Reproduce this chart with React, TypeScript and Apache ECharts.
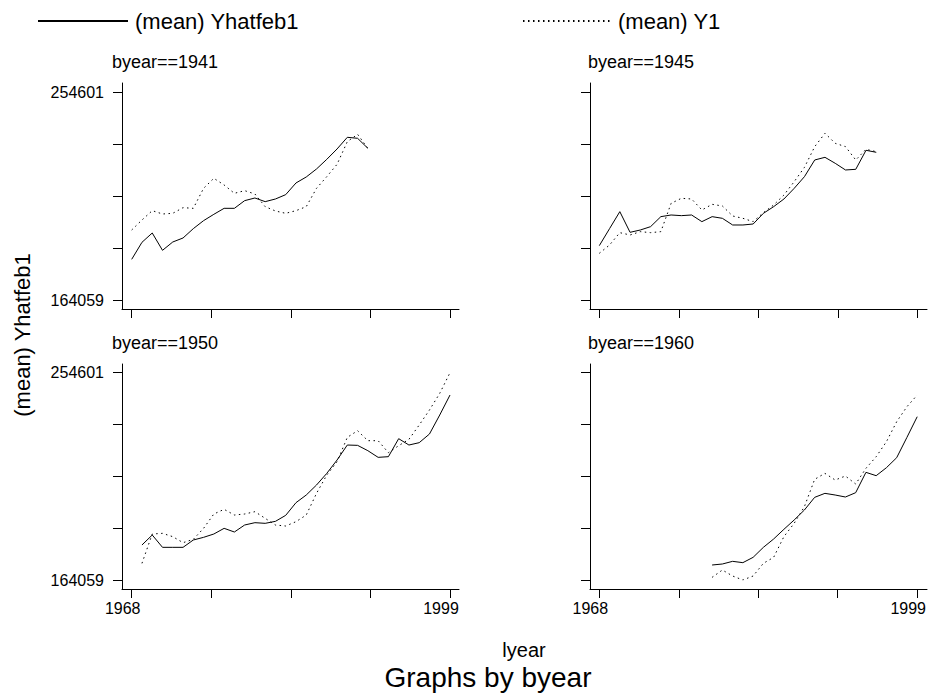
import { useEffect, useRef } from 'react';
import * as echarts from 'echarts';

const FONT = '"Liberation Sans", Arial, Helvetica, sans-serif';

// ---- data ----
const panelTitles = ['byear==1941', 'byear==1945', 'byear==1950', 'byear==1960'];
const startYears = [1968, 1968, 1969, 1979];
const legendNames = ['(mean) Yhatfeb1', '(mean) Y1'];

const yhat1941 = [181789, 189201, 193270, 185713, 189346, 191090, 195160, 198648, 201409, 204025, 204025, 207367, 208530, 206931, 208094, 209983, 215070, 217686, 221174, 225388, 229893, 234980, 234544, 230184];
const y1941 = [194578, 198938, 203007, 201554, 201845, 204315, 204025, 212745, 217104, 214198, 210565, 211727, 210274, 204751, 202862, 201845, 203007, 204751, 212745, 217831, 223208, 233091, 236288, 230184];

const yhat1945 = [187748, 195160, 202571, 193561, 194578, 196032, 200392, 201118, 200827, 201118, 198212, 200392, 199665, 196758, 196758, 197194, 201845, 204751, 208094, 212745, 217831, 225098, 226260, 223644, 220738, 221028, 229312, 228440];
const y1945 = [184405, 188038, 193416, 192398, 193852, 193416, 193852, 206205, 208385, 208094, 203298, 205769, 205042, 200682, 199665, 198212, 202135, 205478, 209838, 215651, 221900, 230911, 236724, 232364, 230911, 225098, 229748, 228731];

const yhat1950 = [179344, 183711, 178325, 178325, 178325, 181527, 182692, 184148, 186622, 185021, 188078, 189097, 188806, 189679, 192300, 197831, 201179, 205546, 210641, 216464, 223015, 222869, 220540, 217629, 217920, 225781, 223015, 224034, 227819, 236116, 244850];
const y1950 = [171338, 184148, 184439, 182983, 180363, 181819, 186622, 192882, 194920, 192445, 192882, 193901, 190989, 188078, 187641, 189534, 192445, 201907, 209914, 215736, 226363, 229274, 224907, 224907, 219667, 222724, 225490, 231749, 238300, 245578, 254601];

const yhat1960 = [170610, 171046, 172211, 171629, 173958, 178325, 181964, 186186, 190262, 194629, 200160, 201907, 201179, 200306, 202198, 211078, 209622, 213116, 217483, 226363, 235388];
const y1960 = [165224, 168426, 165806, 164059, 165806, 171338, 173958, 182983, 188806, 196084, 208021, 210641, 207730, 209477, 205983, 212825, 217920, 224471, 233205, 239755, 244850];

const yhatSeries = [yhat1941, yhat1945, yhat1950, yhat1960];
const ySeries = [y1941, y1945, y1950, y1960];

const xTickLabels = ['1968', '', '', '', '1999'];
const yTickLabels = ['164059', '', '', '', '254601'];
const xMin = 1968;
const xMax = 1999;
const yMin = 164059;
const yMax = 254601;

// ---- layout (pixels) ----
const layout = [
  { ol: 122, ot: 83, or: 459, ob: 309, il: 131.7, it: 92.3, ir: 450, ib: 300, showX: false, showY: true, tx: 112, ty: 53 },
  { ol: 590, ot: 83, or: 927, ob: 309, il: 599.3, it: 92.3, ir: 917.3, ib: 300, showX: false, showY: false, tx: 588, ty: 53 },
  { ol: 122, ot: 364, or: 459, ob: 589, il: 131.7, it: 372.7, ir: 450, ib: 580, showX: true, showY: true, tx: 112, ty: 334 },
  { ol: 590, ot: 364, or: 927, ob: 589, il: 599.3, it: 372.7, ir: 917.3, ib: 580, showX: true, showY: false, tx: 588, ty: 334 },
];

const TICK_FS = 16;
const BLACK = '#000';

function buildOption() {
  const grid: any[] = [];
  const xAxis: any[] = [];
  const yAxis: any[] = [];
  const series: any[] = [];
  const title: any[] = [];

  layout.forEach((L) => {
    grid.push({ left: L.ol, top: L.ot, width: L.or - L.ol, height: L.ob - L.ot, containLabel: false });
  });
  layout.forEach((L) => {
    grid.push({ left: L.il, top: L.it, width: L.ir - L.il, height: L.ib - L.it, containLabel: false });
  });

  layout.forEach((L, p) => {
    xAxis.push({
      gridIndex: p, type: 'value', min: 0, max: 1, position: 'bottom',
      axisLine: { show: true, onZero: false, lineStyle: { color: BLACK, width: 1 } },
      axisTick: { show: false }, axisLabel: { show: false }, splitLine: { show: false },
    });
    yAxis.push({
      gridIndex: p, type: 'value', min: 0, max: 1, position: 'left',
      axisLine: { show: true, onZero: false, lineStyle: { color: BLACK, width: 1 } },
      axisTick: { show: false }, axisLabel: { show: false }, splitLine: { show: false },
    });
  });

  layout.forEach((L, p) => {
    const g = 4 + p;
    xAxis.push({
      gridIndex: g, type: 'value', min: 0, max: 4, interval: 1, position: 'bottom',
      offset: L.ob - L.ib,
      axisLine: { show: false, onZero: false },
      axisTick: { show: true, length: 9, lineStyle: { color: BLACK, width: 1 } },
      axisLabel: {
        show: L.showX, margin: 11, fontSize: TICK_FS, color: BLACK, fontFamily: FONT,
        padding: [0, 18, 0, 0],
        formatter: (v: number) => xTickLabels[Math.round(v)] ?? '',
      },
      splitLine: { show: false },
    });
    xAxis.push({ gridIndex: g, type: 'value', min: xMin, max: xMax, show: false, position: 'bottom' });
    yAxis.push({
      gridIndex: g, type: 'value', min: 0, max: 4, interval: 1, position: 'left',
      offset: L.il - L.ol,
      axisLine: { show: false, onZero: false },
      axisTick: { show: true, length: 9, lineStyle: { color: BLACK, width: 1 } },
      axisLabel: {
        show: L.showY, margin: 18, fontSize: TICK_FS, color: BLACK, fontFamily: FONT,
        formatter: (v: number) => yTickLabels[Math.round(v)] ?? '',
      },
      splitLine: { show: false },
    });
    yAxis.push({ gridIndex: g, type: 'value', min: yMin, max: yMax, show: false, position: 'left' });

    const axIdx = 5 + 2 * p;
    const start = startYears[p];
    const mk = (vals: number[]) => vals.map((v, i) => [start + i, v]);
    series.push({
      type: 'line', name: legendNames[0], xAxisIndex: axIdx, yAxisIndex: axIdx,
      data: mk(yhatSeries[p]), symbol: 'none', silent: true,
      lineStyle: { color: BLACK, width: 1, type: 'solid' }, itemStyle: { color: BLACK },
    });
    series.push({
      type: 'line', name: legendNames[1], xAxisIndex: axIdx, yAxisIndex: axIdx,
      data: mk(ySeries[p]), symbol: 'none', silent: true,
      lineStyle: { color: BLACK, width: 1, type: [1.5, 3.5] }, itemStyle: { color: BLACK },
    });

    title.push({
      text: panelTitles[p], left: L.tx, top: L.ty, padding: 0,
      textStyle: { fontSize: 18, fontWeight: 'normal', color: BLACK, fontFamily: FONT },
    });
  });

  const legendText = { fontSize: 22, color: BLACK, fontFamily: FONT, padding: [0, 0, 0, 2] };
  const hiddenSymbol = { opacity: 0, color: 'rgba(0,0,0,0)', borderWidth: 0 };

  return {
    animation: false,
    backgroundColor: '#fff',
    title,
    legend: [
      { data: [legendNames[0]], left: 37, top: 10, itemWidth: 90, itemHeight: 14, selectedMode: false, textStyle: legendText, itemStyle: hiddenSymbol, padding: 0 },
      { data: [legendNames[1]], left: 522, top: 10, itemWidth: 88, itemHeight: 14, selectedMode: false, textStyle: legendText, itemStyle: hiddenSymbol, padding: 0 },
    ],
    grid, xAxis, yAxis, series,
    graphic: [
      { type: 'text', x: 22, y: 335, rotation: Math.PI / 2, style: { text: '(mean) Yhatfeb1', fontSize: 22, fill: BLACK, fontFamily: FONT, textAlign: 'center', textVerticalAlign: 'middle' } },
      { type: 'text', x: 524, y: 650, style: { text: 'lyear', fontSize: 20, fill: BLACK, fontFamily: FONT, textAlign: 'center', textVerticalAlign: 'middle' } },
      { type: 'text', x: 488, y: 677, style: { text: 'Graphs by byear', fontSize: 28, fill: BLACK, fontFamily: FONT, textAlign: 'center', textVerticalAlign: 'middle' } },
    ],
  };
}

export default function App() {
  const ref = useRef<HTMLDivElement>(null);
  useEffect(() => {
    if (!ref.current) return;
    const chart = echarts.init(ref.current, undefined, { renderer: 'svg' });
    chart.setOption(buildOption() as any);
    return () => chart.dispose();
  }, []);
  return <div ref={ref} style={{ position: 'fixed', left: 0, top: 0, width: 929, height: 700, background: '#fff' }} />;
}
